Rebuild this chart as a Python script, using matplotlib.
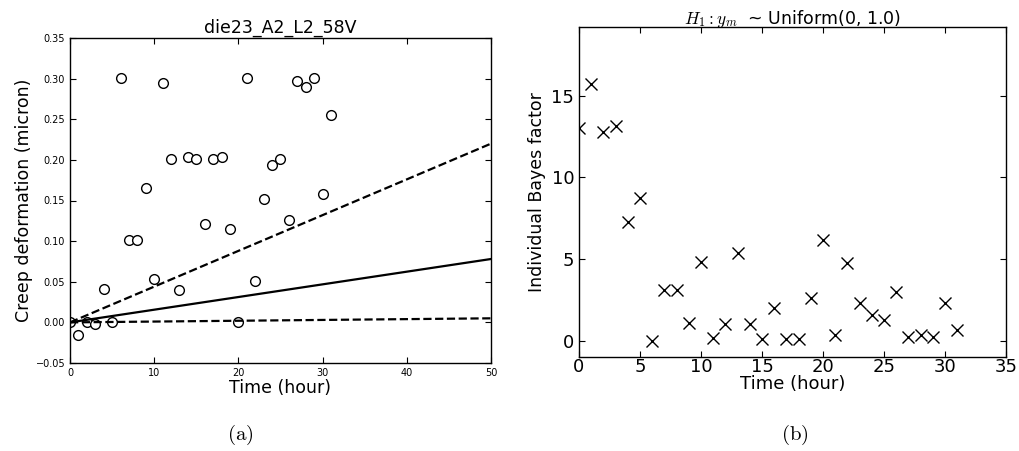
import numpy as np
import matplotlib
matplotlib.use("Agg")
import matplotlib.pyplot as plt

plt.rcParams['mathtext.fontset'] = 'cm'
plt.rcParams['font.family'] = ['DejaVu Sans']

# Creep measurements (die23_A2_L2_58V)
hours = list(range(32))
creep = [0.0, -0.015, 0.0, -0.002, 0.041, 0.0, 0.301, 0.101, 0.101, 0.165,
         0.054, 0.295, 0.201, 0.040, 0.203, 0.201, 0.121, 0.201, 0.203, 0.115,
         0.0, 0.301, 0.051, 0.152, 0.194, 0.201, 0.126, 0.297, 0.290, 0.301,
         0.158, 0.255]

# Fitted creep rate (micron/hour) with its lower and upper bounds
rate_mean = 0.00156
rate_low = 0.0001
rate_high = 0.0044
fit_hours = [0, 50]

# Individual Bayes factor per measurement
bayes = [13.0, 15.7, 12.8, 13.15, 7.25, 8.75, 0.0, 3.1, 3.1, 1.1,
         4.82, 0.15, 1.0, 5.37, 1.0, 0.08, 1.98, 0.1, 0.1, 2.6,
         6.15, 0.33, 4.78, 2.32, 1.57, 1.28, 3.0, 0.24, 0.33, 0.24,
         2.32, 0.68]

fig = plt.figure(figsize=(10.2, 4.51), dpi=100)
W, H = 1020, 451

def px_axes(x0, y0, x1, y1):
    return fig.add_axes([x0 / W, 1 - y1 / H, (x1 - x0) / W, (y1 - y0) / H])

# (a) creep deformation
ax1 = px_axes(70, 38, 491, 363)
ax1.plot(hours, creep, 'o', ms=7, mfc='white', mec='black', mew=1.0, ls='none')
t = np.array(fit_hours, dtype=float)
ax1.plot(t, rate_mean * t, '-', color='black', lw=1.6)
ax1.plot(t, rate_high * t, '--', color='black', lw=1.6)
ax1.plot(t, rate_low * t, '--', color='black', lw=1.6)
ax1.set_xlim(0, 50)
ax1.set_ylim(-0.05, 0.35)
ax1.set_xticks([0, 10, 20, 30, 40, 50])
yt = np.arange(-0.05, 0.351, 0.05)
ax1.set_yticks(yt)
ax1.set_yticklabels([f"{v:.2f}".replace('-', '\u2212') for v in yt])
ax1.tick_params(direction='in', top=True, right=True, labelsize=7, length=4)
ax1.set_title('die23_A2_L2_58V', fontsize=12.5, pad=4)
ax1.set_ylabel('Creep deformation (micron)', fontsize=12.5, labelpad=2)
ax1.set_xlabel('Time (hour)', fontsize=12.5, labelpad=1)

# (b) Bayes factors
ax2 = px_axes(579, 27, 1006, 357)
ax2.plot(hours, bayes, 'x', ms=8, mec='black', mew=1.0, ls='none')
ax2.set_xlim(0, 35)
ax2.set_ylim(-1, 19.2)
ax2.set_xticks([0, 5, 10, 15, 20, 25, 30, 35])
ax2.set_yticks([0, 5, 10, 15])
ax2.tick_params(direction='in', top=True, right=True, labelsize=13, length=4)
ax2.tick_params(axis='x', pad=1)
ax2.set_title(r'$H_1: y_m$  ~ Uniform(0, 1.0)', fontsize=12.5, pad=2)
ax2.set_ylabel('Individual Bayes factor', fontsize=12.5, labelpad=4)
ax2.set_xlabel('Time (hour)', fontsize=13, labelpad=-1)

for ax in (ax1, ax2):
    for s in ax.spines.values():
        s.set_linewidth(1.0)

fig.text(240 / W, 1 - 435 / H, r'$\mathrm{(a)}$', fontsize=15, ha='center', va='center')
fig.text(795 / W, 1 - 435 / H, r'$\mathrm{(b)}$', fontsize=15, ha='center', va='center')

fig.savefig('out.png', dpi=100)
